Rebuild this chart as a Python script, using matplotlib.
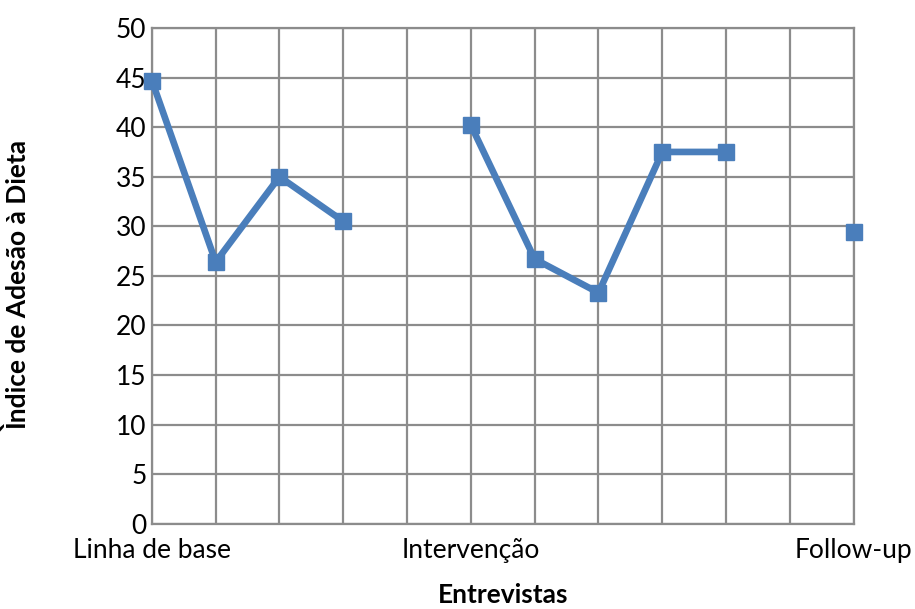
import numpy as np
import matplotlib
matplotlib.use("Agg")
import matplotlib.pyplot as plt

# ── Data ──────────────────────────────────────────────────────────────────────
sessions = np.arange(12)
adesao = [44.7, 26.4, 35.0, 30.5, np.nan, 40.2, 26.7, 23.3, 37.5, 37.5, np.nan, 29.4]
tick_pos = [0, 5, 11]
tick_labels = ["Linha de base", "Intervenção", "Follow-up"]

plt.rcParams["font.family"] = ["Lato", "DejaVu Sans"]

fig = plt.figure(figsize=(9.15, 6.09), dpi=100)
ax = fig.add_axes([0.166, 0.140, 0.767, 0.814])

ax.plot(sessions, adesao, color="#4a7ebb", linewidth=4.8,
        marker="s", markersize=11, zorder=3, clip_on=False)

ax.set_xlim(0, 11)
ax.set_ylim(0, 50)
ax.set_yticks(np.arange(0, 51, 5))
ax.set_xticks(sessions, minor=True)
ax.set_xticks(tick_pos)
ax.set_xticklabels(tick_labels)

ax.grid(True, which="both", color="#8c8c8c", linewidth=1.6)
ax.set_axisbelow(True)
for s in ax.spines.values():
    s.set_color("#8c8c8c")
    s.set_linewidth(1.6)

ax.tick_params(which="both", length=0, labelsize=19)
ax.tick_params(axis="x", pad=10)
ax.tick_params(axis="y", pad=4)

ax.set_xlabel("Entrevistas", fontsize=19, fontweight="bold", va="baseline")
ax.xaxis.set_label_coords(0.5, -0.16)
ax.set_ylabel("Ìndice de Adesão à Dieta", fontsize=19, fontweight="bold")
ax.yaxis.set_label_coords(-0.172, 0.48)

fig.savefig("out.png", dpi=100)
